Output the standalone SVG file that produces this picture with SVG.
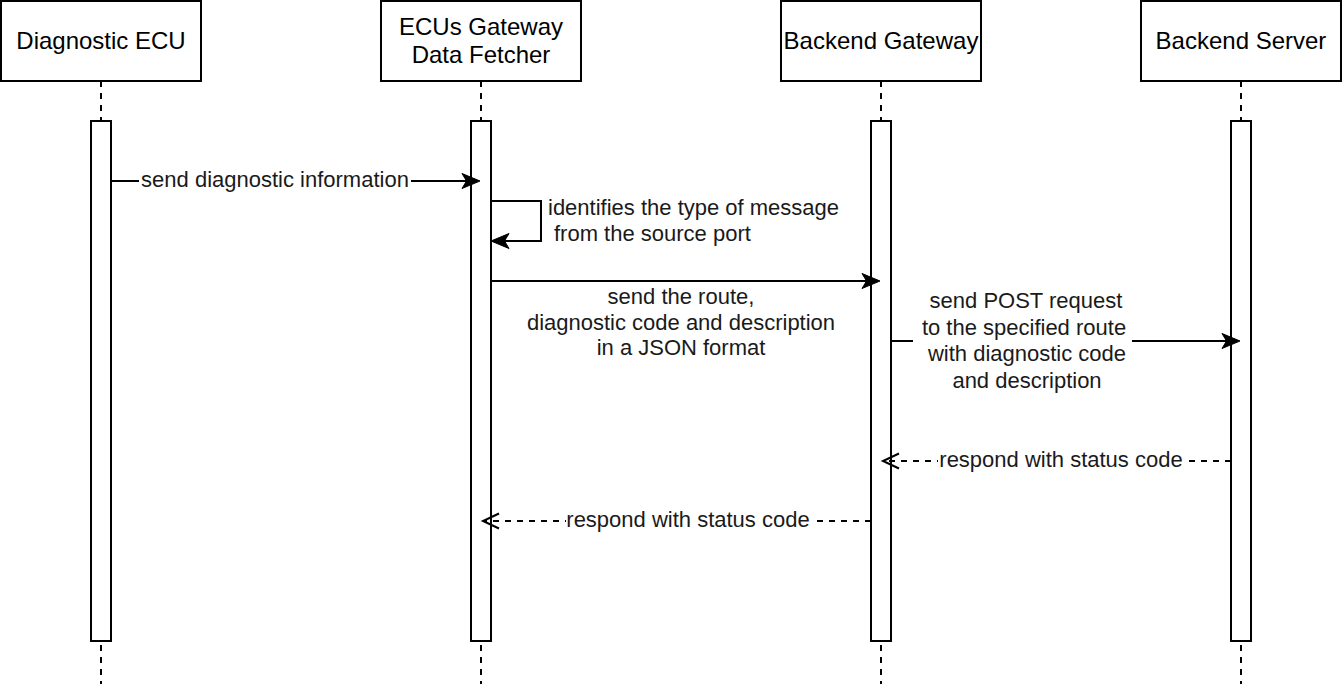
<svg xmlns="http://www.w3.org/2000/svg" width="1342" height="684" viewBox="0 0 1342 684">
<style>
.box{fill:#fff;stroke:#000;stroke-width:2}
.life{stroke:#000;stroke-width:2;stroke-dasharray:6 6;fill:none}
.bar{fill:#fff;stroke:#000;stroke-width:2}
.msg{stroke:#000;stroke-width:2;fill:none}
.ret{stroke:#000;stroke-width:2;fill:none;stroke-dasharray:6 6}
.hd{font-family:"Liberation Sans",Arial,sans-serif;font-size:24px;fill:#000;text-anchor:middle}
.lb{font-family:"Liberation Sans",Arial,sans-serif;font-size:22px;fill:#1a1a1a;text-anchor:middle}
.lbl{font-family:"Liberation Sans",Arial,sans-serif;font-size:22px;fill:#1a1a1a;text-anchor:start}
.bg{fill:#fff;stroke:none}
</style>
<defs>
<marker id="arr" markerWidth="22" markerHeight="18" refX="13" refY="9" orient="auto" markerUnits="userSpaceOnUse" viewBox="0 0 22 18">
<path d="M19,9 L1,1.5 L5.5,9 L1,16.5 Z" fill="#000" stroke="#000" stroke-width="1" stroke-linejoin="miter"/>
</marker>
<marker id="open" markerWidth="20" markerHeight="18" refX="17" refY="9" orient="auto" markerUnits="userSpaceOnUse" viewBox="0 0 20 18">
<path d="M1,1.5 L17,9 L1,16.5" fill="none" stroke="#000" stroke-width="2"/>
</marker>
</defs>

<g id="lifeline-diagnostic-ecu">
<line class="life" x1="101" y1="81" x2="101" y2="684"/>
<rect class="box" x="1" y="1" width="200" height="80"/>
<text class="hd" x="101" y="49">Diagnostic ECU</text>
<rect class="bar" x="91" y="121" width="20" height="520"/>
</g>

<g id="lifeline-ecus-gateway">
<line class="life" x1="481" y1="81" x2="481" y2="684"/>
<rect class="box" x="381" y="1" width="200" height="80"/>
<text class="hd" x="481" y="34.6">ECUs Gateway</text>
<text class="hd" x="481" y="63.4">Data Fetcher</text>
<rect class="bar" x="471" y="121" width="20" height="520"/>
</g>

<g id="lifeline-backend-gateway">
<line class="life" x1="881" y1="81" x2="881" y2="684"/>
<rect class="box" x="781" y="1" width="200" height="80"/>
<text class="hd" x="881" y="49">Backend Gateway</text>
<rect class="bar" x="871" y="121" width="20" height="520"/>
</g>

<g id="lifeline-backend-server">
<line class="life" x1="1241" y1="81" x2="1241" y2="684"/>
<rect class="box" x="1141" y="1" width="200" height="80"/>
<text class="hd" x="1241" y="49">Backend Server</text>
<rect class="bar" x="1231" y="121" width="20" height="520"/>
</g>

<g id="connectors">
<line class="msg" x1="111" y1="181" x2="474" y2="181" marker-end="url(#arr)"/>
<rect class="bg" x="139" y="170" width="272" height="22"/>
<text class="lb" x="275" y="186.5">send diagnostic information</text>

<path class="msg" d="M491,201 H541 V241 H497" marker-end="url(#arr)"/>
<text class="lbl" x="548" y="214.5">identifies the type of message</text>
<text class="lbl" x="554" y="240.5">from the source port</text>

<line class="msg" x1="491" y1="281" x2="874" y2="281" marker-end="url(#arr)"/>
<text class="lb" x="681" y="304">send the route,</text>
<text class="lb" x="681" y="329.5">diagnostic code and description</text>
<text class="lb" x="681" y="355">in a JSON format</text>

<line class="msg" x1="891" y1="341" x2="1234" y2="341" marker-end="url(#arr)"/>
<rect class="bg" x="913" y="290" width="219" height="104"/>
<text class="lb" x="1026" y="308">send POST request</text>
<text class="lb" x="1024" y="334.6">to the specified route</text>
<text class="lb" x="1027" y="361.2">with diagnostic code</text>
<text class="lb" x="1027" y="387.8">and description</text>

<line class="ret" x1="1231" y1="461" x2="883" y2="461" marker-end="url(#open)"/>
<rect class="bg" x="938" y="450" width="246" height="22"/>
<text class="lb" x="1061" y="467">respond with status code</text>

<line class="ret" x1="871" y1="521" x2="483" y2="521" marker-end="url(#open)"/>
<rect class="bg" x="566" y="510" width="245" height="22"/>
<text class="lb" x="688" y="527">respond with status code</text>
</g>
</svg>
